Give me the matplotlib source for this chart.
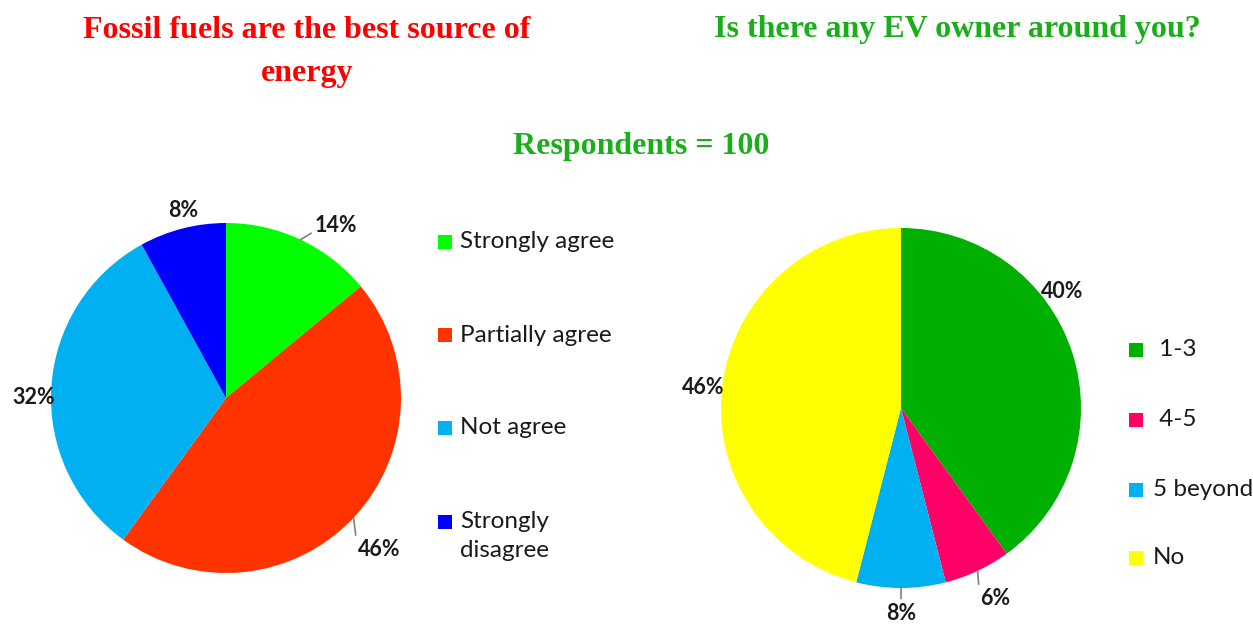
import numpy as np
import matplotlib
matplotlib.use("Agg")
import matplotlib.pyplot as plt
from matplotlib.patches import Rectangle

# data
fossil_labels = ["Strongly agree", "Partially agree", "Not agree", "Strongly\ndisagree"]
fossil_values = [14, 46, 32, 8]
ev_labels = [" 1-3", " 4-5", "5 beyond", "No"]
ev_values = [40, 6, 8, 46]

fossil_colors = ["#00FF00", "#FF3300", "#00B0F0", "#0000FF"]
ev_colors = ["#00B000", "#FF0066", "#00B0F0", "#FFFF00"]

W, H = 1253, 624
fig = plt.figure(figsize=(W / 100, H / 100), dpi=100)

LIM = 1.5
label_font = dict(family=["Lato", "DejaVu Sans"], fontsize=15.5, fontweight="bold", color="#1a1a1a")


def pie_axes(cx, cy, r):
    # axes sized so the unit-radius pie lands at (cx, cy) with radius r px
    side = 2 * LIM * r
    return fig.add_axes([(cx - side / 2) / W, (H - cy - side / 2) / H, side / W, side / H])


def draw_pie(ax, values, colors, label_pos, leaders):
    wedges, _ = ax.pie(values, colors=colors, startangle=90, counterclock=False,
                       wedgeprops=dict(linewidth=0))
    ax.set_xlim(-LIM, LIM)
    ax.set_ylim(-LIM, LIM)
    ax.set_aspect("equal")
    ax.axis("off")
    for w, v, (ang, rr, ha), lead in zip(wedges, values, label_pos, leaders):
        mid = np.deg2rad((w.theta1 + w.theta2) / 2)
        a = np.deg2rad(ang)
        tx, ty = rr * np.cos(a), rr * np.sin(a)
        if lead is None:
            ax.text(tx, ty, f"{v}%", ha=ha, va="center", **label_font)
        else:
            ax.annotate(f"{v}%", xy=(np.cos(mid), np.sin(mid)), xytext=(tx, ty),
                        ha=ha, va="center", annotation_clip=False,
                        arrowprops=dict(arrowstyle="-", color="#7f7f7f", lw=1.2,
                                        relpos=lead, shrinkA=1, shrinkB=0),
                        **label_font)
    return wedges


def draw_legend(labels, colors, x_box, x_text, ys):
    for lab, c, y in zip(labels, colors, ys):
        fig.patches.append(Rectangle((x_box / W, 1 - (y + 7) / H), 14 / W, 14 / H,
                                     transform=fig.transFigure, facecolor=c,
                                     edgecolor="none"))
        va = "top" if "\n" in lab else "center"
        yy = y - 11 if "\n" in lab else y
        fig.text(x_text / W, 1 - yy / H, lab, ha="left", va=va,
                 family=["Lato", "DejaVu Sans"], fontsize=17.5, color="#1a1a1a",
                 linespacing=1.45)


# left pie
ax1 = pie_axes(226, 398, 175)
draw_pie(ax1, fossil_values, fossil_colors,
         label_pos=[(57.4, 1.17, "center"), (-49.0, 1.15, "left"),
                    (180.0, 1.10, "center"), (103.0, 1.10, "center")],
         leaders=[(0, 0.25), (0, 0.3), None, None])

# right pie
ax2 = pie_axes(901, 408, 180)
draw_pie(ax2, ev_values, ev_colors,
         label_pos=[(36.0, 1.105, "center"), (-67.5, 1.148, "left"),
                    (-90.0, 1.14, "center"), (174.0, 1.105, "center")],
         leaders=[None, (0, 0.3), (0.5, 1.0), None])

draw_legend(fossil_labels, fossil_colors, 438, 460, [242, 335, 428, 522])
draw_legend(ev_labels, ev_colors, 1129, 1153, [350, 420, 490, 558])

title_font = dict(family=["Liberation Serif", "DejaVu Serif"], fontsize=23, fontweight="bold")
fig.text(307 / W, 1 - 52 / H, "Fossil fuels are the best source of\nenergy",
         ha="center", va="center", color="#FF0000", linespacing=1.65, **title_font)
fig.text(957 / W, 1 - 30 / H, "Is there any EV owner around you?",
         ha="center", va="center", color="#1AAF1A", **title_font)
fig.text(641 / W, 1 - 146 / H, "Respondents = 100",
         ha="center", va="center", color="#1AAF1A", **title_font)

fig.savefig("out.png", dpi=100, facecolor="white")
